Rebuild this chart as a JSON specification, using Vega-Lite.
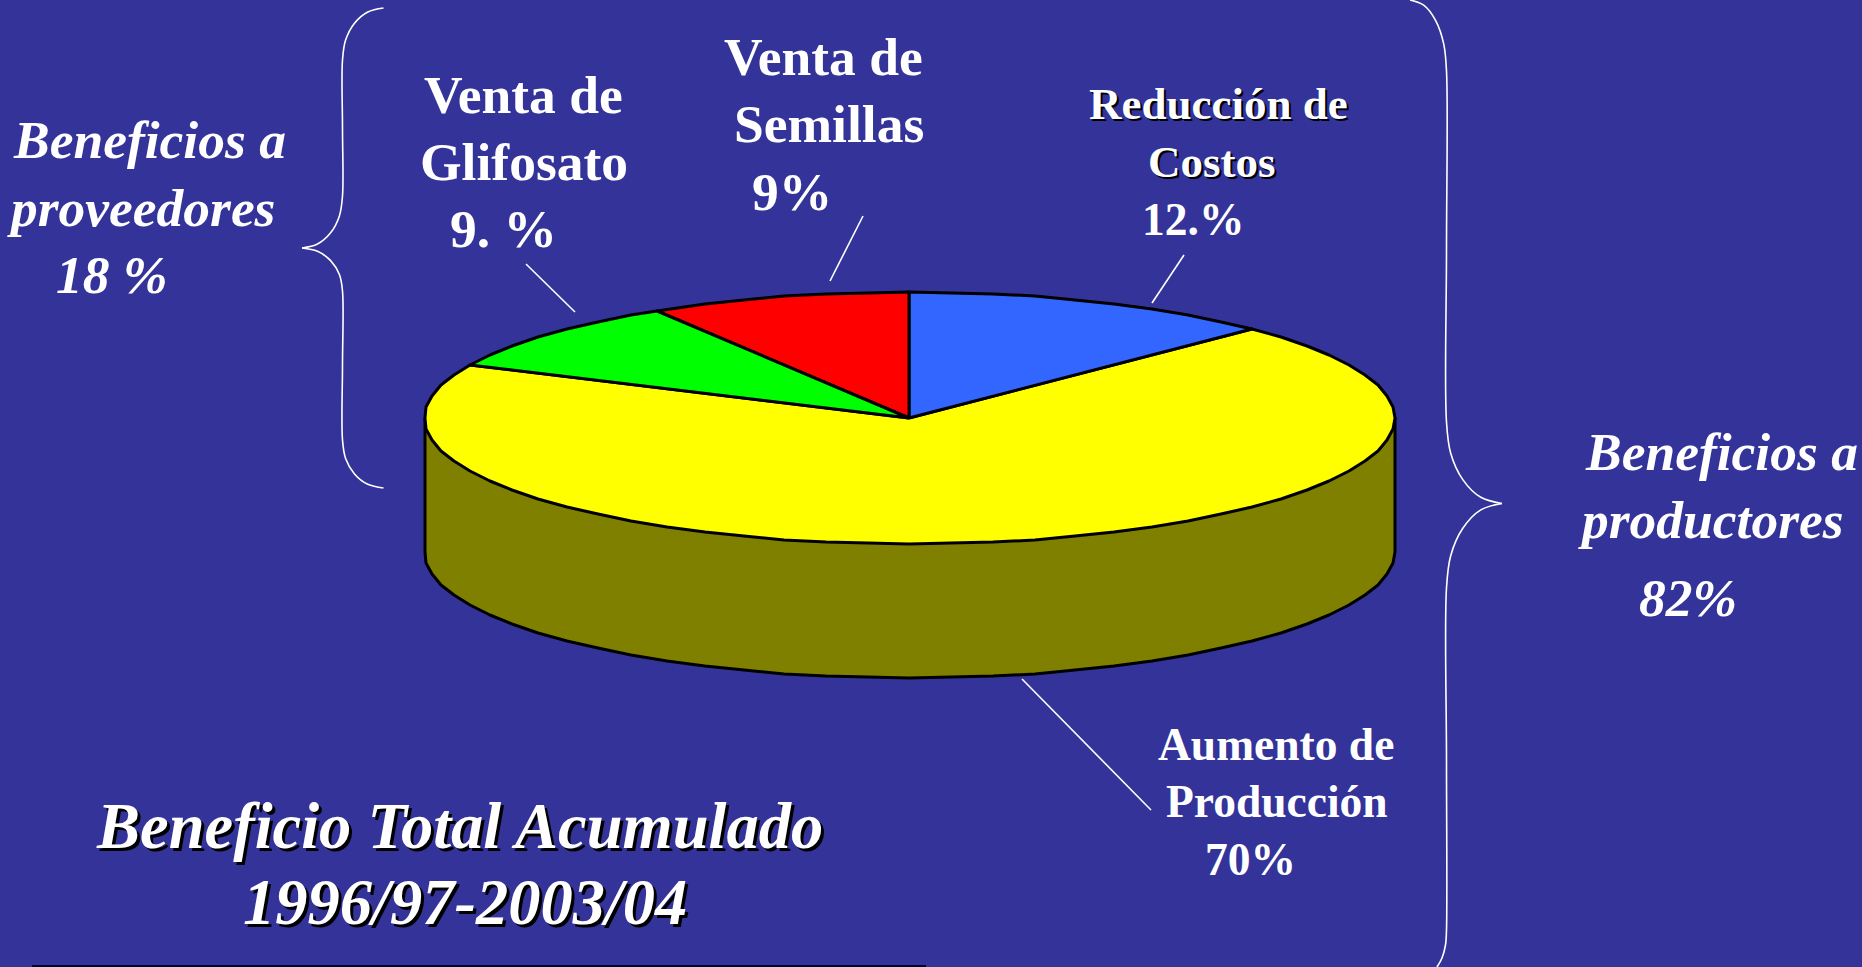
{"$schema":"https://vega.github.io/schema/vega-lite/v6.json","width":1862,"height":967,"padding":0,"autosize":"none","background":"#333399","config":{"view":{"stroke":null}},
"datasets":{"pie":[
{"s":"Lateral","o":1,"x":425,"y":418},{"s":"Lateral","o":2,"x":425,"y":552},{"s":"Lateral","o":3,"x":426,"y":563},{"s":"Lateral","o":4,"x":432,"y":574},{"s":"Lateral","o":5,"x":441,"y":585},{"s":"Lateral","o":6,"x":454,"y":595},{"s":"Lateral","o":7,"x":470,"y":605},{"s":"Lateral","o":8,"x":490,"y":615},{"s":"Lateral","o":9,"x":512,"y":624},{"s":"Lateral","o":10,"x":538,"y":633},{"s":"Lateral","o":11,"x":567,"y":641},{"s":"Lateral","o":12,"x":598,"y":648},{"s":"Lateral","o":13,"x":631,"y":655},{"s":"Lateral","o":14,"x":667,"y":661},{"s":"Lateral","o":15,"x":705,"y":666},{"s":"Lateral","o":16,"x":744,"y":670},{"s":"Lateral","o":17,"x":784,"y":674},{"s":"Lateral","o":18,"x":826,"y":676},{"s":"Lateral","o":19,"x":868,"y":677},{"s":"Lateral","o":20,"x":909,"y":678},{"s":"Lateral","o":21,"x":951,"y":677},{"s":"Lateral","o":22,"x":993,"y":676},{"s":"Lateral","o":23,"x":1035,"y":674},{"s":"Lateral","o":24,"x":1075,"y":670},{"s":"Lateral","o":25,"x":1114,"y":666},{"s":"Lateral","o":26,"x":1152,"y":661},{"s":"Lateral","o":27,"x":1188,"y":655},{"s":"Lateral","o":28,"x":1221,"y":648},{"s":"Lateral","o":29,"x":1252,"y":641},{"s":"Lateral","o":30,"x":1281,"y":633},{"s":"Lateral","o":31,"x":1307,"y":624},{"s":"Lateral","o":32,"x":1329,"y":615},{"s":"Lateral","o":33,"x":1349,"y":605},{"s":"Lateral","o":34,"x":1365,"y":595},{"s":"Lateral","o":35,"x":1378,"y":585},{"s":"Lateral","o":36,"x":1387,"y":574},{"s":"Lateral","o":37,"x":1393,"y":563},{"s":"Lateral","o":38,"x":1395,"y":552},{"s":"Lateral","o":39,"x":1395,"y":418},{"s":"Lateral","o":40,"x":425,"y":418},
{"s":"Aumento de Producción","o":1,"x":909,"y":418},{"s":"Aumento de Producción","o":2,"x":470,"y":365},{"s":"Aumento de Producción","o":3,"x":454,"y":375},{"s":"Aumento de Producción","o":4,"x":441,"y":385},{"s":"Aumento de Producción","o":5,"x":432,"y":396},{"s":"Aumento de Producción","o":6,"x":426,"y":407},{"s":"Aumento de Producción","o":7,"x":425,"y":418},{"s":"Aumento de Producción","o":8,"x":426,"y":429},{"s":"Aumento de Producción","o":9,"x":432,"y":440},{"s":"Aumento de Producción","o":10,"x":441,"y":451},{"s":"Aumento de Producción","o":11,"x":454,"y":461},{"s":"Aumento de Producción","o":12,"x":470,"y":471},{"s":"Aumento de Producción","o":13,"x":490,"y":481},{"s":"Aumento de Producción","o":14,"x":512,"y":490},{"s":"Aumento de Producción","o":15,"x":538,"y":499},{"s":"Aumento de Producción","o":16,"x":567,"y":507},{"s":"Aumento de Producción","o":17,"x":598,"y":514},{"s":"Aumento de Producción","o":18,"x":631,"y":521},{"s":"Aumento de Producción","o":19,"x":667,"y":527},{"s":"Aumento de Producción","o":20,"x":705,"y":532},{"s":"Aumento de Producción","o":21,"x":744,"y":536},{"s":"Aumento de Producción","o":22,"x":784,"y":540},{"s":"Aumento de Producción","o":23,"x":826,"y":542},{"s":"Aumento de Producción","o":24,"x":868,"y":543},{"s":"Aumento de Producción","o":25,"x":909,"y":544},{"s":"Aumento de Producción","o":26,"x":951,"y":543},{"s":"Aumento de Producción","o":27,"x":993,"y":542},{"s":"Aumento de Producción","o":28,"x":1035,"y":540},{"s":"Aumento de Producción","o":29,"x":1075,"y":536},{"s":"Aumento de Producción","o":30,"x":1114,"y":532},{"s":"Aumento de Producción","o":31,"x":1152,"y":527},{"s":"Aumento de Producción","o":32,"x":1188,"y":521},{"s":"Aumento de Producción","o":33,"x":1221,"y":514},{"s":"Aumento de Producción","o":34,"x":1252,"y":507},{"s":"Aumento de Producción","o":35,"x":1281,"y":499},{"s":"Aumento de Producción","o":36,"x":1307,"y":490},{"s":"Aumento de Producción","o":37,"x":1329,"y":481},{"s":"Aumento de Producción","o":38,"x":1349,"y":471},{"s":"Aumento de Producción","o":39,"x":1365,"y":461},{"s":"Aumento de Producción","o":40,"x":1378,"y":451},{"s":"Aumento de Producción","o":41,"x":1387,"y":440},{"s":"Aumento de Producción","o":42,"x":1393,"y":429},{"s":"Aumento de Producción","o":43,"x":1395,"y":418},{"s":"Aumento de Producción","o":44,"x":1393,"y":407},{"s":"Aumento de Producción","o":45,"x":1387,"y":396},{"s":"Aumento de Producción","o":46,"x":1378,"y":385},{"s":"Aumento de Producción","o":47,"x":1365,"y":375},{"s":"Aumento de Producción","o":48,"x":1349,"y":365},{"s":"Aumento de Producción","o":49,"x":1329,"y":355},{"s":"Aumento de Producción","o":50,"x":1307,"y":346},{"s":"Aumento de Producción","o":51,"x":1281,"y":337},{"s":"Aumento de Producción","o":52,"x":1252,"y":329},{"s":"Aumento de Producción","o":53,"x":909,"y":418},
{"s":"Reducción de Costos","o":1,"x":909,"y":418},{"s":"Reducción de Costos","o":2,"x":1252,"y":329},{"s":"Reducción de Costos","o":3,"x":1221,"y":322},{"s":"Reducción de Costos","o":4,"x":1188,"y":315},{"s":"Reducción de Costos","o":5,"x":1152,"y":309},{"s":"Reducción de Costos","o":6,"x":1114,"y":304},{"s":"Reducción de Costos","o":7,"x":1075,"y":300},{"s":"Reducción de Costos","o":8,"x":1035,"y":296},{"s":"Reducción de Costos","o":9,"x":993,"y":294},{"s":"Reducción de Costos","o":10,"x":951,"y":293},{"s":"Reducción de Costos","o":11,"x":909,"y":292},{"s":"Reducción de Costos","o":12,"x":909,"y":418},
{"s":"Venta de Semillas","o":1,"x":909,"y":418},{"s":"Venta de Semillas","o":2,"x":909,"y":292},{"s":"Venta de Semillas","o":3,"x":868,"y":293},{"s":"Venta de Semillas","o":4,"x":826,"y":294},{"s":"Venta de Semillas","o":5,"x":784,"y":296},{"s":"Venta de Semillas","o":6,"x":744,"y":300},{"s":"Venta de Semillas","o":7,"x":705,"y":304},{"s":"Venta de Semillas","o":8,"x":657,"y":311},{"s":"Venta de Semillas","o":9,"x":909,"y":418},
{"s":"Venta de Glifosato","o":1,"x":909,"y":418},{"s":"Venta de Glifosato","o":2,"x":657,"y":311},{"s":"Venta de Glifosato","o":3,"x":631,"y":315},{"s":"Venta de Glifosato","o":4,"x":598,"y":322},{"s":"Venta de Glifosato","o":5,"x":567,"y":329},{"s":"Venta de Glifosato","o":6,"x":538,"y":337},{"s":"Venta de Glifosato","o":7,"x":512,"y":346},{"s":"Venta de Glifosato","o":8,"x":490,"y":355},{"s":"Venta de Glifosato","o":9,"x":470,"y":365},{"s":"Venta de Glifosato","o":10,"x":909,"y":418}
],
"lines":[
{"k":"g","o":1,"x":526,"y":264},{"k":"g","o":2,"x":575,"y":312},
{"k":"m","o":1,"x":863,"y":216},{"k":"m","o":2,"x":830,"y":281},
{"k":"r","o":1,"x":1184,"y":255},{"k":"r","o":2,"x":1152,"y":303},
{"k":"a","o":1,"x":1022,"y":679},{"k":"a","o":2,"x":1151,"y":810},
{"k":"L","o":1,"x":383.5,"y":8},{"k":"L","o":2,"x":367.8,"y":12},{"k":"L","o":3,"x":354.5,"y":23.2},{"k":"L","o":4,"x":345.6,"y":40.1},{"k":"L","o":5,"x":342.5,"y":60},{"k":"L","o":6,"x":342.5,"y":128},{"k":"L","o":7,"x":342.5,"y":196},{"k":"L","o":8,"x":339.4,"y":215.9},{"k":"L","o":9,"x":330.6,"y":232.8},{"k":"L","o":10,"x":317.5,"y":244},{"k":"L","o":11,"x":302,"y":248},{"k":"L2","o":1,"x":302,"y":248},{"k":"L2","o":2,"x":317.5,"y":251.3},{"k":"L2","o":3,"x":330.6,"y":260.6},{"k":"L2","o":4,"x":339.4,"y":274.5},{"k":"L2","o":5,"x":342.5,"y":291},{"k":"L2","o":6,"x":342.5,"y":365},{"k":"L2","o":7,"x":342.5,"y":440},{"k":"L2","o":8,"x":345.6,"y":458.4},{"k":"L2","o":9,"x":354.5,"y":473.9},{"k":"L2","o":10,"x":367.8,"y":484.3},{"k":"L2","o":11,"x":383.5,"y":488},
{"k":"R","o":1,"x":1410,"y":0},{"k":"R","o":2,"x":1424,"y":5.4},{"k":"R","o":3,"x":1435.8,"y":20.8},{"k":"R","o":4,"x":1443.7,"y":43.8},{"k":"R","o":5,"x":1446.5,"y":71},{"k":"R","o":6,"x":1446.5,"y":250},{"k":"R","o":7,"x":1446.5,"y":422},{"k":"R","o":8,"x":1450.7,"y":453.2},{"k":"R","o":9,"x":1462.8,"y":479.6},{"k":"R","o":10,"x":1480.8,"y":497.3},{"k":"R","o":11,"x":1502,"y":503.5},{"k":"R2","o":1,"x":1502,"y":503.5},{"k":"R2","o":2,"x":1480.8,"y":509.9},{"k":"R2","o":3,"x":1462.8,"y":528.3},{"k":"R2","o":4,"x":1450.7,"y":555.7},{"k":"R2","o":5,"x":1446.5,"y":588},{"k":"R2","o":6,"x":1446.5,"y":760},{"k":"R2","o":7,"x":1446.5,"y":930},{"k":"R2","o":8,"x":1445.5,"y":945},{"k":"R2","o":9,"x":1442,"y":958},{"k":"R2","o":10,"x":1437,"y":967}
],
"edge":[{"x":32,"y":966},{"x":926,"y":966}],
"labels":[
{"g":"big","t":"Venta de","x":424,"y":113},{"g":"big","t":"Glifosato","x":420,"y":180},{"g":"big","t":"9. %","x":450,"y":247},
{"g":"big","t":"Venta de","x":724,"y":75},{"g":"big","t":"Semillas","x":734,"y":142},{"g":"big","t":"9%","x":752,"y":210},
{"g":"shadow","t":"Reducción de","x":1089,"y":119},{"g":"shadow","t":"Costos","x":1148,"y":177},{"g":"small","t":"12.%","x":1142,"y":235},
{"g":"small","t":"Aumento de","x":1158,"y":760},{"g":"small","t":"Producción","x":1166,"y":817},{"g":"small","t":"70%","x":1205,"y":875},
{"g":"ital","t":"Beneficios a","x":14,"y":158},{"g":"ital","t":"proveedores","x":11,"y":226},{"g":"ital","t":"18 %","x":56,"y":293},
{"g":"ital","t":"Beneficios a","x":1586,"y":470},{"g":"ital","t":"productores","x":1582,"y":538},{"g":"ital","t":"82%","x":1639,"y":616},
{"g":"title","t":"Beneficio Total Acumulado","x":97,"y":848},{"g":"title","t":"1996/97-2003/04","x":243,"y":924}
]},
"encoding":{"x":{"field":"x","type":"quantitative","axis":null,"scale":{"domain":[0,1862],"nice":false,"zero":false}},"y":{"field":"y","type":"quantitative","axis":null,"scale":{"domain":[967,0],"nice":false,"zero":false}}},
"layer":[
{"data":{"name":"pie"},"mark":{"type":"line","strokeWidth":3,"stroke":"#000000","strokeJoin":"round"},"encoding":{"order":{"field":"o","type":"quantitative"},"fill":{"field":"s","type":"nominal","legend":null,"scale":{"domain":["Lateral","Aumento de Producción","Reducción de Costos","Venta de Semillas","Venta de Glifosato"],"range":["#808000","#FFFF00","#3366FF","#FF0000","#00FF00"]}},"detail":{"field":"s"}}},
{"data":{"name":"lines"},"mark":{"type":"line","stroke":"#FFFFFF","strokeWidth":1.6,"interpolate":"catmull-rom"},"encoding":{"order":{"field":"o","type":"quantitative"},"detail":{"field":"k"}}},
{"data":{"name":"edge"},"mark":{"type":"line","stroke":"#000033","strokeWidth":2}},
{"data":{"name":"labels"},"transform":[{"filter":"datum.g=='big'"}],"mark":{"type":"text","align":"left","baseline":"alphabetic","font":"Liberation Serif","fontWeight":"bold","fontSize":53.5,"fill":"#FFFFFF"},"encoding":{"text":{"field":"t"}}},
{"data":{"name":"labels"},"transform":[{"filter":"datum.g=='small'"}],"mark":{"type":"text","align":"left","baseline":"alphabetic","font":"Liberation Serif","fontWeight":"bold","fontSize":45.5,"fill":"#FFFFFF"},"encoding":{"text":{"field":"t"}}},
{"data":{"name":"labels"},"transform":[{"filter":"datum.g=='shadow'"}],"mark":{"type":"text","align":"left","baseline":"alphabetic","font":"Liberation Serif","fontWeight":"bold","fontSize":45,"fill":"#000000","dx":2,"dy":2},"encoding":{"text":{"field":"t"}}},
{"data":{"name":"labels"},"transform":[{"filter":"datum.g=='shadow'"}],"mark":{"type":"text","align":"left","baseline":"alphabetic","font":"Liberation Serif","fontWeight":"bold","fontSize":45,"fill":"#FFFFFF"},"encoding":{"text":{"field":"t"}}},
{"data":{"name":"labels"},"transform":[{"filter":"datum.g=='ital'"}],"mark":{"type":"text","align":"left","baseline":"alphabetic","font":"Liberation Serif","fontWeight":"bold","fontStyle":"italic","fontSize":53.5,"fill":"#FFFFFF"},"encoding":{"text":{"field":"t"}}},
{"data":{"name":"labels"},"transform":[{"filter":"datum.g=='title'"}],"mark":{"type":"text","align":"left","baseline":"alphabetic","font":"Liberation Serif","fontWeight":"bold","fontStyle":"italic","fontSize":64.5,"fill":"#000000","dx":3,"dy":3},"encoding":{"text":{"field":"t"}}},
{"data":{"name":"labels"},"transform":[{"filter":"datum.g=='title'"}],"mark":{"type":"text","align":"left","baseline":"alphabetic","font":"Liberation Serif","fontWeight":"bold","fontStyle":"italic","fontSize":64.5,"fill":"#FFFFFF"},"encoding":{"text":{"field":"t"}}}
]}
